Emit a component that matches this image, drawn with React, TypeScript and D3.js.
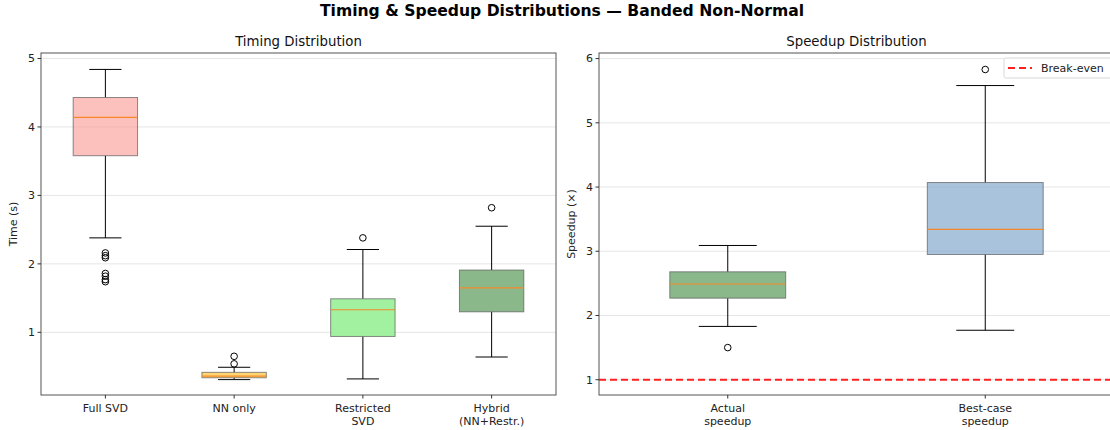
import React from 'react';
import * as d3 from 'd3';

// Timing panel
const timingCats = ['Full SVD', 'NN only', 'Restricted\nSVD', 'Hybrid\n(NN+Restr.)'];
const timingQ1 = [3.58, 0.337, 0.94, 1.3];
const timingMed = [4.14, 0.36, 1.33, 1.65];
const timingQ3 = [4.43, 0.416, 1.49, 1.91];
const timingLo = [2.38, 0.31, 0.32, 0.64];
const timingHi = [4.84, 0.49, 2.21, 2.55];
const timingOut = [[2.16, 2.12, 2.09, 1.86, 1.82, 1.77, 1.74], [0.65, 0.54], [2.38], [2.82]];
const timingColors = ['rgba(250,160,152,0.65)', 'rgba(255,200,70,0.75)', 'rgba(144,238,144,0.85)', 'rgba(100,160,100,0.75)'];
const timingTicks = [1, 2, 3, 4, 5];

// Speedup panel
const speedCats = ['Actual\nspeedup', 'Best-case\nspeedup'];
const speedQ1 = [2.27, 2.95];
const speedMed = [2.49, 3.34];
const speedQ3 = [2.68, 4.07];
const speedLo = [1.83, 1.77];
const speedHi = [3.09, 5.58];
const speedOut = [[1.5], [5.83]];
const speedColors = ['rgba(100,160,100,0.75)', 'rgba(134,170,206,0.7)'];
const speedTicks = [1, 2, 3, 4, 5, 6];
const breakEven = 1;

const FONT = '"DejaVu Sans", Verdana, sans-serif';
const TOP = 53;
const BOTTOM = 395;

type PanelProps = {
    x0: number;
    x1: number;
    domain: [number, number];
    cats: string[];
    q1: number[];
    med: number[];
    q3: number[];
    lo: number[];
    hi: number[];
    out: number[][];
    colors: string[];
    ticks: number[];
    boxFrac: number;
    title: string;
    yLabel: string;
    children?: (y: d3.ScaleLinear<number, number>) => React.ReactNode;
};

const Panel: React.FC<PanelProps> = (p) => {
    const y = d3.scaleLinear().domain(p.domain).range([BOTTOM, TOP]);
    const x = d3
        .scaleLinear()
        .domain([0.5, p.cats.length + 0.5])
        .range([p.x0, p.x1]);
    const step = x(2) - x(1);
    const bw = step * p.boxFrac;

    return (
        <g>
            <defs>
                <clipPath id={`clip${p.x0}`}>
                    <rect x={p.x0} y={TOP} width={p.x1 - p.x0} height={BOTTOM - TOP} />
                </clipPath>
            </defs>
            {/* grid */}
            {p.ticks.map((t) => (
                <line key={t} x1={p.x0} x2={p.x1} y1={y(t)} y2={y(t)} stroke="#e6e6e6" strokeWidth={1} />
            ))}
            <g clipPath={`url(#clip${p.x0})`}>{p.children && p.children(y)}</g>
            {/* boxes */}
            {p.cats.map((c, i) => {
                const cx = x(i + 1);
                return (
                    <g key={c}>
                        <line x1={cx} x2={cx} y1={y(p.q3[i])} y2={y(p.hi[i])} stroke="#000" />
                        <line x1={cx} x2={cx} y1={y(p.q1[i])} y2={y(p.lo[i])} stroke="#000" />
                        <line x1={cx - bw / 4} x2={cx + bw / 4} y1={y(p.hi[i])} y2={y(p.hi[i])} stroke="#000" />
                        <line x1={cx - bw / 4} x2={cx + bw / 4} y1={y(p.lo[i])} y2={y(p.lo[i])} stroke="#000" />
                        <rect
                            x={cx - bw / 2}
                            y={y(p.q3[i])}
                            width={bw}
                            height={y(p.q1[i]) - y(p.q3[i])}
                            fill={p.colors[i]}
                            stroke="rgba(90,90,90,0.7)"
                            strokeWidth={1}
                        />
                        <line x1={cx - bw / 2} x2={cx + bw / 2} y1={y(p.med[i])} y2={y(p.med[i])} stroke="#f5892a" strokeWidth={1.2} />
                        {p.out[i].map((v, j) => (
                            <circle key={j} cx={cx} cy={y(v)} r={3.3} fill="none" stroke="#000" strokeWidth={1} />
                        ))}
                    </g>
                );
            })}
            {/* frame */}
            <rect x={p.x0} y={TOP} width={p.x1 - p.x0} height={BOTTOM - TOP} fill="none" stroke="#555" strokeWidth={1} />
            {/* y ticks */}
            {p.ticks.map((t) => (
                <g key={t}>
                    <line x1={p.x0 - 3.5} x2={p.x0} y1={y(t)} y2={y(t)} stroke="#333" />
                    <text x={p.x0 - 6} y={y(t)} dy="0.35em" textAnchor="end" fontSize={11} fill="#222">
                        {t}
                    </text>
                </g>
            ))}
            {/* x ticks */}
            {p.cats.map((c, i) => (
                <g key={c}>
                    <line x1={x(i + 1)} x2={x(i + 1)} y1={BOTTOM} y2={BOTTOM + 3.5} stroke="#333" />
                    {c.split('\n').map((s, k) => (
                        <text key={k} x={x(i + 1)} y={BOTTOM + 17 + k * 13} textAnchor="middle" fontSize={11} fill="#222">
                            {s}
                        </text>
                    ))}
                </g>
            ))}
            <text x={(p.x0 + Math.min(p.x1, 1110)) / 2 + (p.x1 > 1110 ? 2 : 0)} y={46} textAnchor="middle" fontSize={13.3} fill="#111">
                {p.title}
            </text>
            <text
                transform={`translate(${p.x0 - 24},${(TOP + BOTTOM) / 2}) rotate(-90)`}
                textAnchor="middle"
                fontSize={11}
                fill="#222"
            >
                {p.yLabel}
            </text>
        </g>
    );
};

export default function App() {
    return (
        <svg
            width={1110}
            height={430}
            style={{ position: 'absolute', left: 0, top: 0, background: '#fff', fontFamily: FONT }}
        >
            <rect width={1110} height={430} fill="#fff" />
            <text x={562} y={16} textAnchor="middle" fontSize={15.6} fontWeight="bold" fill="#000">
                Timing &amp; Speedup Distributions — Banded Non-Normal
            </text>
            <Panel
                x0={41}
                x1={556}
                domain={[0.085, 5.08]}
                cats={timingCats}
                q1={timingQ1}
                med={timingMed}
                q3={timingQ3}
                lo={timingLo}
                hi={timingHi}
                out={timingOut}
                colors={timingColors}
                ticks={timingTicks}
                boxFrac={0.5}
                title="Timing Distribution"
                yLabel="Time (s)"
            />
            <Panel
                x0={599}
                x1={1114}
                domain={[0.762, 6.087]}
                cats={speedCats}
                q1={speedQ1}
                med={speedMed}
                q3={speedQ3}
                lo={speedLo}
                hi={speedHi}
                out={speedOut}
                colors={speedColors}
                ticks={speedTicks}
                boxFrac={0.45}
                title="Speedup Distribution"
                yLabel="Speedup (×)"
            >
                {(y) => (
                    <line x1={599} x2={1114} y1={y(breakEven)} y2={y(breakEven)} stroke="#ff2020" strokeWidth={2} strokeDasharray="7,4" />
                )}
            </Panel>
            {/* legend */}
            <g>
                <rect x={1004} y={58} width={110} height={20} rx={2} fill="rgba(255,255,255,0.85)" stroke="#d8d8d8" />
                <line x1={1008} x2={1032} y1={68} y2={68} stroke="#ff2020" strokeWidth={2} strokeDasharray="7,4" />
                <text x={1041} y={68} dy="0.35em" fontSize={11} fill="#222">
                    Break-even
                </text>
            </g>
        </svg>
    );
}
